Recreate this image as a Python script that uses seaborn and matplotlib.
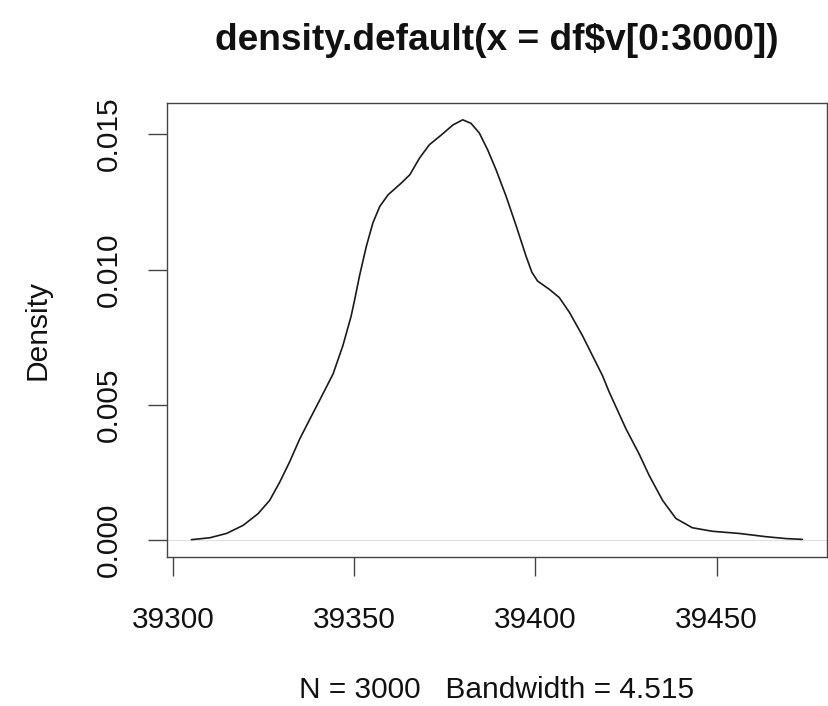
'''
    R style density plot redrawn with seaborn
'''

import matplotlib
matplotlib.use('Agg')
import matplotlib.pyplot as plt
import seaborn as sns
import pandas as pd

# values
v = [39305.0, 39310.1, 39314.7, 39319.3, 39323.4, 39326.6, 39329.4, 39332.1,
     39334.9, 39337.5, 39340.4, 39344.1, 39346.8, 39349.1, 39350.1, 39351.4,
     39353.3, 39355.1, 39357.0, 39359.3, 39363.0, 39365.3, 39368.0, 39370.7,
     39374.0, 39377.2, 39379.9, 39382.2, 39384.5, 39386.8, 39389.1, 39391.9,
     39394.7, 39397.4, 39399.0, 39400.6, 39403.8, 39406.6, 39409.4, 39413.0,
     39418.5, 39420.4, 39425.0, 39428.6, 39431.4, 39435.1, 39438.8, 39443.3,
     39448.8, 39456.2, 39463.6, 39469.1, 39473.7]
density = [0.00002, 0.00009, 0.00025, 0.00055, 0.00098, 0.00147, 0.00215, 0.00289,
           0.00374, 0.00442, 0.00517, 0.00614, 0.00718, 0.00828, 0.00890, 0.00976,
           0.01086, 0.01172, 0.01233, 0.01276, 0.01320, 0.01350, 0.01412, 0.01461,
           0.01497, 0.01534, 0.01553, 0.01540, 0.01504, 0.01442, 0.01369, 0.01270,
           0.01160, 0.01049, 0.00990, 0.00957, 0.00927, 0.00896, 0.00841, 0.00755,
           0.00608, 0.00546, 0.00411, 0.00319, 0.00239, 0.00147, 0.00080, 0.00046,
           0.00033, 0.00025, 0.00013, 0.00006, 0.00003]

x_ticks = [39300, 39350, 39400, 39450]
y_ticks = [0.000, 0.005, 0.010, 0.015]
y_labels = ['0.000', '0.005', '0.010', '0.015']

title = 'density.default(x = df$v[0:3000])'
sub = 'N = 3000   Bandwidth = 4.515'

sns.set_style('white')
plt.rcParams['font.family'] = ['Liberation Sans', 'DejaVu Sans']

W, H = 829, 706
fig = plt.figure(figsize=(W / 100, H / 100), dpi=100)
ax = fig.add_axes([167 / W, 1 - 557 / H, (827 - 167) / W, (557 - 103) / H])

df = pd.DataFrame({'v': v, 'density': density})

# zero line, like plot.density
ax.axhline(0, color='#d9d9d9', lw=0.6, zorder=1)
sns.lineplot(data=df, x='v', y='density', ax=ax, color='#1a1a1a', lw=1.2, zorder=3)

ax.set_xlim(39298.25, 39480.5)
ax.set_ylim(-0.000621, 0.016151)
ax.set_xticks(x_ticks)
ax.set_xticklabels([str(t) for t in x_ticks])
ax.set_yticks(y_ticks)
ax.set_yticklabels(y_labels)
ax.set_xlabel('')
ax.set_ylabel('')

for s in ax.spines.values():
    s.set_color('#444444')
    s.set_linewidth(1.0)

ax.tick_params(axis='both', which='major', direction='out', length=13.5, width=1.0,
               color='#444444', labelsize=21.5, labelcolor='#111111',
               bottom=True, left=True)
ax.tick_params(axis='x', pad=22)
ax.tick_params(axis='y', pad=18)
for lab in ax.get_yticklabels():
    lab.set_rotation(90)
    lab.set_va('center')

fig.text(497 / W, 1 - 41 / H, title, ha='center', va='center',
         fontsize=26.7, fontweight='bold', color='#111111')
fig.text(37 / W, 1 - 330 / H, 'Density', ha='center', va='center',
         rotation=90, fontsize=21.5, color='#111111')
fig.text(497 / W, 1 - 690 / H, sub, ha='center', va='center',
         fontsize=21.5, color='#111111')

fig.savefig('out.png', dpi=100, facecolor='white')
